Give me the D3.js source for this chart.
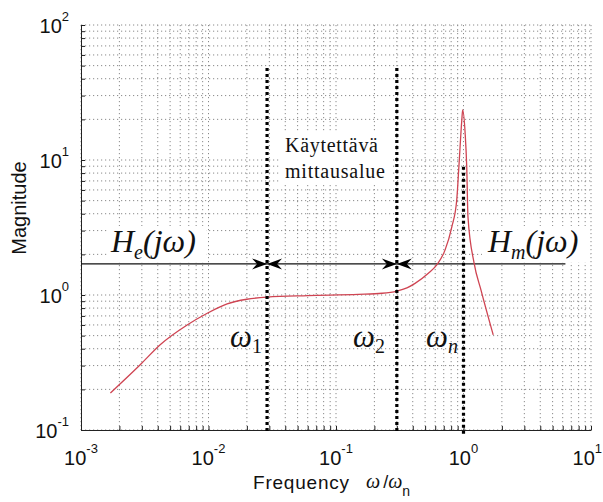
<!DOCTYPE html>
<html>
<head>
<meta charset="utf-8">
<script src="https://cdn.jsdelivr.net/npm/d3@7"></script>
<style>
  body { margin: 0; background: #fff; }
  .grid line { stroke: #8a8a8a; stroke-width: 1; stroke-dasharray: 1.2,2.8; }
  .axis path, .axis line { stroke: #222; }
  .lbl { font-family: "Liberation Sans", Arial, sans-serif; fill: #111; }
  .serif { font-family: "Liberation Serif", "Times New Roman", serif; fill: #111; }
</style>
</head>
<body>
<div id="app"></div>
<script>
// response curve
const freq = [0.0017, 0.0029, 0.0042, 0.0068, 0.0097, 0.014, 0.02, 0.0288, 0.06, 0.15, 0.23, 0.3,
    0.36, 0.417, 0.53, 0.617, 0.716, 0.81, 0.885, 0.92, 0.97, 0.985, 1.03, 1.06, 1.084, 1.21, 1.37, 1.71];
const magnitude = [0.188, 0.303, 0.43, 0.6, 0.73, 0.86, 0.93, 0.965, 0.99, 1.01, 1.03, 1.07,
    1.13, 1.22, 1.45, 1.67, 2.15, 3.2, 5.06, 8.9, 19.8, 23.5, 15.8, 8.9, 3.8, 1.73, 1.09, 0.506];

// markers
const markerFreq = [0.0288, 0.3, 1];
const markerTop = [48, 48, 8.9];
const markerBottom = [0.095, 0.095, 0.09];
const markerNames = ["1", "2", "n"];
const levelValue = 1.7;     // horizontal H line
const levelEnd = 6.3;       // where the line stops (x)

const xDecades = [-3, -2, -1, 0, 1];
const yDecades = [-1, 0, 1, 2];

const W = 603, H = 502;
const margin = { top: 25, right: 12, bottom: 72, left: 81 };

const svg = d3.select("#app").append("svg")
    .attr("width", W).attr("height", H);

const x = d3.scaleLog().domain([1e-3, 1e1]).range([margin.left, W - margin.right]);
const y = d3.scaleLog().domain([1e-1, 1e2]).range([H - margin.bottom, margin.top]);

// all decade + minor tick values
function logTicks(decades) {
    const out = [];
    decades.forEach((d, i) => {
        const n = i === decades.length - 1 ? 1 : 9;
        for (let k = 1; k <= n; k++) out.push(k * Math.pow(10, d));
    });
    return out;
}
const xTicks = logTicks(xDecades);
const yTicks = logTicks(yDecades);

// dotted grid
const grid = svg.append("g").attr("class", "grid");
grid.selectAll(".vx").data(xTicks).enter().append("line")
    .attr("x1", (d) => x(d)).attr("x2", (d) => x(d))
    .attr("y1", y.range()[1]).attr("y2", y.range()[0]);
grid.selectAll(".hy").data(yTicks).enter().append("line")
    .attr("x1", x.range()[0]).attr("x2", x.range()[1])
    .attr("y1", (d) => y(d)).attr("y2", (d) => y(d));

// axes with inward ticks
svg.append("g").attr("class", "axis")
    .attr("transform", `translate(0,${y.range()[0]})`)
    .call(d3.axisBottom(x).tickValues(xTicks).tickSize(-4).tickSizeOuter(0).tickFormat(""));
svg.append("g").attr("class", "axis")
    .attr("transform", `translate(${x.range()[0]},0)`)
    .call(d3.axisLeft(y).tickValues(yTicks).tickSize(-4).tickSizeOuter(0).tickFormat(""));

// tick labels 10^n
const last = xDecades[xDecades.length - 1];
svg.selectAll(".xl").data(xDecades).enter().append("text")
    .attr("class", "lbl")
    .attr("x", (d) => (d === last ? W - 1 : x(Math.pow(10, d))))
    .attr("y", 465)
    .attr("text-anchor", (d) => (d === last ? "end" : "middle"))
    .style("font-size", "20px")
    .each(function (d) {
        const t = d3.select(this);
        t.append("tspan").text("10");
        t.append("tspan").attr("dy", -12).style("font-size", "13px").text(d);
    });
svg.selectAll(".yl").data(yDecades).enter().append("text")
    .attr("class", "lbl")
    .attr("x", 69)
    .attr("y", (d) => y(Math.pow(10, d)) + 8)
    .attr("text-anchor", "end")
    .style("font-size", "20px")
    .each(function (d) {
        const t = d3.select(this);
        t.append("tspan").text("10");
        t.append("tspan").attr("dy", -12).style("font-size", "13px").text(d);
    });

// axis titles
svg.append("text").attr("class", "lbl")
    .attr("transform", "translate(26,208) rotate(-90)")
    .attr("text-anchor", "middle")
    .style("font-size", "20px")
    .text("Magnitude");
svg.append("text").attr("class", "lbl")
    .attr("x", 253).attr("y", 489)
    .attr("textLength", 96)
    .style("font-size", "19px")
    .text("Frequency");
const fx = svg.append("text").attr("x", 366).attr("y", 488);
fx.append("tspan").attr("class", "serif").style("font-style", "italic").style("font-size", "20px").text("ω");
fx.append("tspan").attr("class", "lbl").style("font-size", "18px").attr("dx", 3).text("/");
fx.append("tspan").attr("class", "serif").style("font-style", "italic").style("font-size", "20px").text("ω");
fx.append("tspan").attr("class", "lbl").style("font-size", "14px").attr("dy", 8).text("n");

// white patches behind annotation text
const patches = [[280, 132, 112, 52], [108, 226, 98, 36], [482, 226, 108, 36]];
svg.selectAll(".patch").data(patches).enter().append("rect")
    .attr("x", (d) => d[0]).attr("y", (d) => d[1])
    .attr("width", (d) => d[2]).attr("height", (d) => d[3])
    .attr("fill", "#fff");

// horizontal H line
svg.append("line")
    .attr("x1", x.range()[0]).attr("x2", x(levelEnd))
    .attr("y1", y(levelValue)).attr("y2", y(levelValue))
    .attr("stroke", "#111").attr("stroke-width", 1.2);

// response curve
const line = d3.line()
    .x((d, i) => x(freq[i]))
    .y((d) => y(d))
    .curve(d3.curveMonotoneX);
svg.append("path")
    .datum(magnitude)
    .attr("d", line)
    .attr("fill", "none")
    .attr("stroke", "#cf4452")
    .attr("stroke-width", 1.3);

// heavy dotted marker lines
svg.selectAll(".marker").data(markerFreq).enter().append("line")
    .attr("x1", (d) => x(d)).attr("x2", (d) => x(d))
    .attr("y1", (d, i) => y(markerTop[i])).attr("y2", (d, i) => y(markerBottom[i]))
    .attr("stroke", "#000").attr("stroke-width", 3.2)
    .attr("stroke-dasharray", "3,3");

// arrowheads pointing at w1 and w2
const head = "M0,0 L-15,-5.5 L-10,0 L-15,5.5 Z";
[markerFreq[0], markerFreq[1]].forEach((f) => {
    const cx = x(f), cy = y(levelValue);
    svg.append("path").attr("d", head).attr("fill", "#000")
        .attr("transform", `translate(${cx},${cy})`);
    svg.append("path").attr("d", head).attr("fill", "#000")
        .attr("transform", `translate(${cx},${cy}) scale(-1,1)`);
});

// annotations
svg.append("text").attr("class", "serif")
    .attr("x", 285).attr("y", 152).attr("textLength", 93)
    .style("font-size", "20px").text("Käytettävä");
svg.append("text").attr("class", "serif")
    .attr("x", 285).attr("y", 178).attr("textLength", 100)
    .style("font-size", "20px").text("mittausalue");

function hLabel(px, sub) {
    const t = svg.append("text").attr("class", "serif")
        .attr("x", px).attr("y", 252)
        .style("font-style", "italic").style("font-size", "32px");
    t.append("tspan").text("H");
    t.append("tspan").attr("dy", 7).style("font-size", "20px").text(sub);
    t.append("tspan").attr("dy", -7).text("(jω)");
}
hLabel(111, "e");
hLabel(488, "m");

const omegaX = [230, 353, 426];
markerNames.forEach((n, i) => {
    const t = svg.append("text").attr("class", "serif")
        .attr("x", omegaX[i]).attr("y", 347)
        .style("font-size", "31px");
    t.append("tspan").style("font-style", "italic").text("ω");
    t.append("tspan").attr("dy", 6).style("font-size", "20px")
        .style("font-style", n === "n" ? "italic" : "normal").text(n);
});
</script>
</body>
</html>
